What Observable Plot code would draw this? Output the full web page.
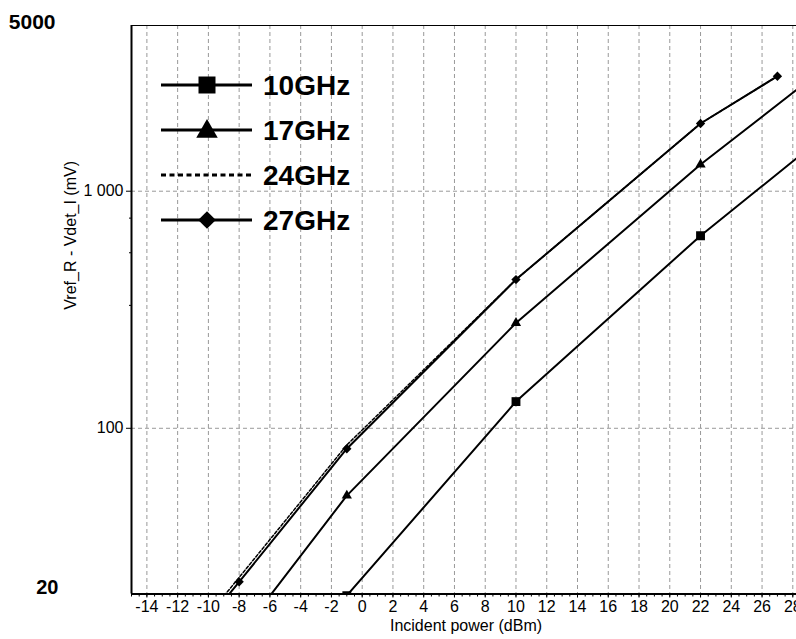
<!DOCTYPE html>
<html><head><meta charset="utf-8">
<script src="https://cdn.jsdelivr.net/npm/d3@7"></script>
<script src="https://cdn.jsdelivr.net/npm/@observablehq/plot@0.6"></script>
<style>
html,body{margin:0;padding:0;overflow:hidden;background:#fff;}
#wrap{position:relative;width:796px;height:639px;overflow:hidden;}
#wrap svg{max-width:none !important;}
#wrap svg.overlay{position:absolute;left:0;top:0;pointer-events:none;}
</style></head><body><div id="wrap"></div>
<script>
const font = "'Liberation Sans', Arial, Helvetica, sans-serif";

// data (incident power in dBm, Vref_R - Vdet_I in mV)
const series = ["10GHz", "17GHz", "24GHz", "27GHz"];
const power10 = [-1, 10, 22, 30];
const v10 = [19.7, 129.6, 649, 1700];
const power17 = [-8, -1, 10, 22, 30];
const v17 = [13.3, 52, 278, 1296, 3280];
const power24 = [-10, -8, -1, 10, 22, 27];
const v24 = [16.3, 23.5, 85, 424, 1930, 3055];
const power27 = [-10, -8, -1, 10, 22, 27];
const v27 = [15.6, 22.5, 82, 424, 1930, 3055];

const xTicks = d3.range(-14, 29, 2);
const xMinor = d3.range(-15, 28.6, 0.5);
const yTicks = [100, 1000];
const yTickLabels = ["100", "1 000"];
const yMinor = [330, 550, 770];
const yTop = [5000];
const yBottom = [20];
const xLabel = "Incident power (dBm)";
const yLabel = "Vref_R - Vdet_I (mV)";

const toRows = (p, v, s) => p.map((d, i) => ({power: d, v: v[i], series: s}));
const r10 = toRows(power10, v10, series[0]);
const r17 = toRows(power17, v17, series[1]);
const r24 = toRows(power24, v24, series[2]);
const r27 = toRows(power27, v27, series[3]);

const gridStyle = {stroke: "#999", strokeOpacity: 1, strokeWidth: 1, strokeDasharray: "4,3"};
const lineStyle = {x: "power", y: "v", stroke: "black", strokeWidth: 2, clip: true};

const chart = Plot.plot({
  width: 802, height: 639,
  marginLeft: 131, marginRight: 2, marginTop: 25, marginBottom: 45.5,
  style: {fontFamily: font, fontSize: "16px", color: "#000", background: "#fff", overflow: "visible", maxWidth: "none"},
  x: {domain: [-15, 28.5], label: null},
  y: {type: "log", domain: [20, 5000], label: null},
  marks: [
    Plot.gridX(xTicks, gridStyle),
    Plot.gridY(yTicks, gridStyle),
    Plot.axisX(xMinor, {tickSize: 3, tickFormat: () => "", label: null}),
    Plot.axisX(xTicks, {tickSize: 4, tickFormat: () => "", label: null}),
    Plot.axisY(yMinor, {tickSize: 2, tickFormat: () => "", label: null}),
    Plot.axisY(yTicks, {tickSize: 5, tickFormat: () => "", label: null}),
    Plot.text(xTicks, {x: d => d, text: d => String(d), frameAnchor: "bottom", dy: 18, fontSize: 16}),
    Plot.text(yTicks, {y: d => d, text: (d, i) => yTickLabels[i], frameAnchor: "left", textAnchor: "end", dx: -8, fontSize: 16}),
    Plot.text(yTop, {y: d => d, text: d => String(d), frameAnchor: "left", textAnchor: "end", dx: -76, dy: -3, fontSize: 21, fontWeight: "bold"}),
    Plot.text(yBottom, {y: d => d, text: d => String(d), frameAnchor: "left", textAnchor: "end", dx: -73, dy: -6, fontSize: 20, fontWeight: "bold"}),
    Plot.text([xLabel], {frameAnchor: "bottom", dy: 37, fontSize: 16}),
    Plot.text([yLabel], {frameAnchor: "left", dx: -61, rotate: -90, fontSize: 16}),
    Plot.line(r24, {...lineStyle, strokeWidth: 1.5, strokeDasharray: "3,2"}),
    Plot.line(r10, lineStyle),
    Plot.line(r17, lineStyle),
    Plot.line(r27, lineStyle),
    Plot.dot(r10, {x: "power", y: "v", symbol: "square", r: 5, fill: "black", stroke: "none", clip: true}),
    Plot.dot(r17, {x: "power", y: "v", symbol: "triangle", r: 3.8, fill: "black", stroke: "none", clip: true}),
    Plot.dot(r27, {x: "power", y: "v", symbol: "diamond2", r: 4.2, fill: "black", stroke: "none", clip: true}),
    Plot.ruleX([-15], {stroke: "black", strokeWidth: 2}),
    Plot.ruleY([20], {stroke: "black", strokeWidth: 2}),
    Plot.ruleY([5000], {stroke: "black", strokeWidth: 1})
  ]
});
const wrap = document.getElementById("wrap");
wrap.appendChild(chart);

// legend overlay inside the plot area
const legendY = [85, 130, 175, 220];
const legendSymbols = [d3.symbolSquare, d3.symbolTriangle, null, d3.symbolDiamond2];
const legendSizes = [289, 200, 0, 200];
const svg = d3.select(wrap).append("svg").attr("class", "overlay")
  .attr("width", 796).attr("height", 639);
series.forEach((s, i) => {
  const g = svg.append("g").attr("transform", `translate(0,${legendY[i]})`);
  const dotted = i === 2;
  g.append("line").attr("x1", 161).attr("x2", 252).attr("y1", 0).attr("y2", 0)
    .attr("stroke", "black").attr("stroke-width", 3)
    .attr("stroke-dasharray", dotted ? "5,3.5" : null);
  if (legendSymbols[i]) {
    g.append("path").attr("transform", `translate(207,${i === 1 ? 1.5 : 0})`)
      .attr("d", d3.symbol(legendSymbols[i], legendSizes[i])()).attr("fill", "black");
  }
  g.append("text").attr("x", 263).attr("y", 10).text(s)
    .attr("font-family", font).attr("font-weight", "bold").attr("font-size", 28).attr("fill", "black");
});
</script></body></html>
